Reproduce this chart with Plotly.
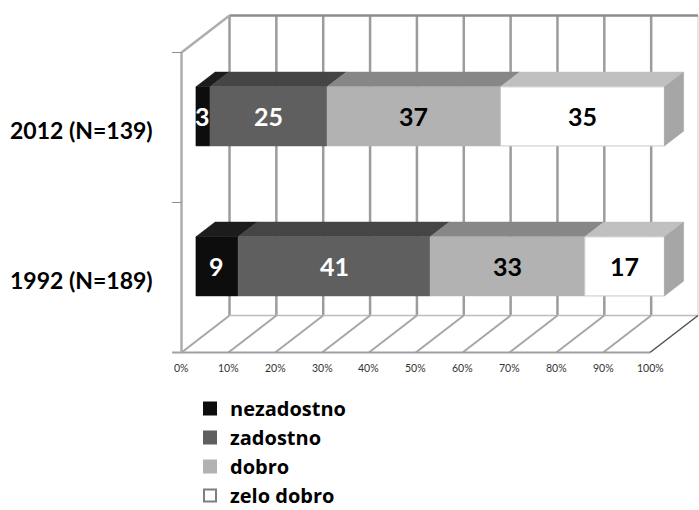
import plotly.graph_objects as go

# Survey results: share of answers per rating, by survey year (percent)
categories = ["1992 (N=189)", "2012 (N=139)"]
series_names = ["nezadostno", "zadostno", "dobro", "zelo dobro"]
nezadostno = [9, 3]
zadostno = [41, 25]
dobro = [33, 37]
zelo_dobro = [17, 35]
series_values = [nezadostno, zadostno, dobro, zelo_dobro]

tick_values = [0, 10, 20, 30, 40, 50, 60, 70, 80, 90, 100]
tick_labels = ["0%", "10%", "20%", "30%", "40%", "50%", "60%", "70%", "80%", "90%", "100%"]

# Colours of the faces of each stacked segment
front_colors = ["#0d0d0d", "#5f5f5f", "#b2b2b2", "#ffffff"]
top_colors = ["#1c1c1c", "#454545", "#878787", "#c0c0c0"]
text_colors = ["white", "white", "black", "black"]
side_color = "#a6a6a6"
legend_line = ["#0d0d0d", "#5f5f5f", "#b2b2b2", "#7f7f7f"]

FONT = "Lato"
LEGEND_FONT = "Open Sans"

# Oblique projection of the depth axis: z=0 is the front plane, z=1 the back wall
DX = 10.25      # horizontal shift (in % units) at full depth
DY = 0.2467     # vertical shift (in category units) at full depth
BAR_Z0, BAR_Z1 = 0.30, 0.70
BAR_HALF = 0.197
Y_LO, Y_HI = -0.5, len(categories) - 0.5


def proj(v, c, z):
    return v + z * DX, c + z * DY


def poly(points):
    xs, ys = zip(*[proj(*p) for p in points])
    return list(xs) + [xs[0]], list(ys) + [ys[0]]


def segments(pairs):
    xs, ys = [], []
    for a, b in pairs:
        x0, y0 = proj(*a)
        x1, y1 = proj(*b)
        xs += [x0, x1, None]
        ys += [y0, y1, None]
    return xs, ys


fig = go.Figure()


def add_lines(pairs, color, width):
    xs, ys = segments(pairs)
    fig.add_trace(go.Scatter(x=xs, y=ys, mode="lines", showlegend=False,
                             hoverinfo="skip", line=dict(color=color, width=width)))


# Back wall gridlines and edges
add_lines([((v, Y_LO, 1), (v, Y_HI, 1)) for v in tick_values[:-1]], "#9c9c9c", 2.5)
add_lines([((tick_values[-1], Y_LO, 1), (tick_values[-1], Y_HI, 1))], "#d0d0d0", 1)
add_lines([((0, Y_HI, 1), (100, Y_HI, 1))], "#8c8c8c", 2.5)
add_lines([((0, Y_LO, 1), (100, Y_LO, 1))], "#bdbdbd", 1.5)

# Floor
add_lines([((v, Y_LO, 0), (v, Y_LO, 1)) for v in tick_values[:-1]], "#a6a6a6", 2)
add_lines([((100, Y_LO, 0), (100, Y_LO, 1))], "#505050", 1.5)
add_lines([((-2, Y_LO, 0), (100, Y_LO, 0))], "#a0a0a0", 2)

# Left wall with category-boundary ticks
add_lines([((0, Y_LO, 0), (0, Y_HI, 0)), ((0, Y_HI, 0), (0, Y_HI, 1))], "#adadad", 2.5)
add_lines([((-2, y, 0), (0, y, 0)) for y in [Y_LO + 1, Y_HI]], "#8c8c8c", 1)


def add_face(points, fill, edge=None):
    xs, ys = poly(points)
    fig.add_trace(go.Scatter(x=xs, y=ys, mode="lines", fill="toself", fillcolor=fill,
                             showlegend=False, hoverinfo="skip",
                             line=dict(color=edge or fill, width=1 if edge else 0.5)))


annotations = []
for ci, cat in enumerate(categories):
    lo, hi = ci - BAR_HALF, ci + BAR_HALF
    start = 0
    for si, vals in enumerate(series_values):
        v = vals[ci]
        end = start + v
        # top face
        add_face([(start, hi, BAR_Z0), (end, hi, BAR_Z0), (end, hi, BAR_Z1), (start, hi, BAR_Z1)],
                 top_colors[si])
        # front face
        add_face([(start, lo, BAR_Z0), (end, lo, BAR_Z0), (end, hi, BAR_Z0), (start, hi, BAR_Z0)],
                 front_colors[si], "#c8c8c8" if front_colors[si] == "#ffffff" else None)
        lx, ly = proj((start + end) / 2, ci, BAR_Z0)
        annotations.append(dict(x=lx, y=ly, text=str(v), showarrow=False,
                                font=dict(family=FONT, size=25, color=text_colors[si], weight="bold")))
        start = end
    # right end face
    add_face([(start, lo, BAR_Z0), (start, hi, BAR_Z0), (start, hi, BAR_Z1), (start, lo, BAR_Z1)],
             side_color)
    # category label on the front plane
    annotations.append(dict(x=-5.6, y=ci, text=cat, showarrow=False, xanchor="right", yshift=-2,
                            font=dict(family=FONT, size=23, color="black", weight="bold")))

# Value axis labels under the front edge
for v, t in zip(tick_values, tick_labels):
    annotations.append(dict(x=v, y=Y_LO, text=t, showarrow=False, yshift=-15,
                            font=dict(family=FONT, size=10.5, color="#333333")))

# Legend entries
for si, name in enumerate(series_names):
    fig.add_trace(go.Scatter(x=[None], y=[None], mode="markers", name=name, legendgroup=name,
                             marker=dict(symbol="square", size=14, color=front_colors[si],
                                         line=dict(color=legend_line[si], width=1))))

px_per_pct = 4.685
x_left = -181.5 / px_per_pct
x_right = (699 - 181.5) / px_per_pct
y_top = Y_LO + 352.5 / 150
y_bottom = Y_LO - 157.5 / 150

fig.update_layout(
    width=699, height=510,
    margin=dict(l=0, r=0, t=0, b=0, autoexpand=False),
    paper_bgcolor="white", plot_bgcolor="white",
    xaxis=dict(range=[x_left, x_right], visible=False, fixedrange=True),
    yaxis=dict(range=[y_bottom, y_top], visible=False, fixedrange=True),
    annotations=annotations,
    showlegend=True,
    legend=dict(x=190 / 699, y=1 - 389 / 510, xanchor="left", yanchor="top",
                font=dict(family=LEGEND_FONT, size=20, color="black", weight="bold"),
                tracegroupgap=0, itemsizing="constant", bgcolor="rgba(0,0,0,0)"),
)

fig.write_html("out.html")
